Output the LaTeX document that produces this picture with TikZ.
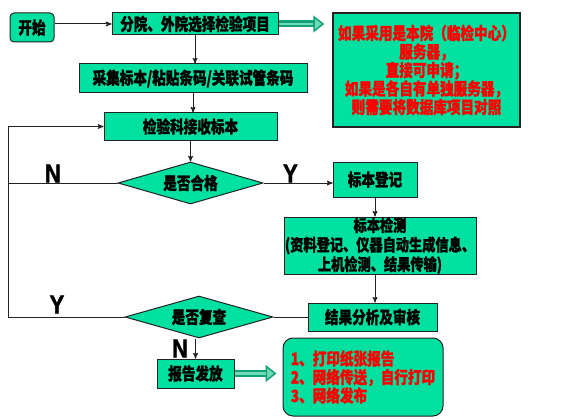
\documentclass[tikz,border=0pt]{standalone}
\usepackage{fontspec}
\setmainfont{Noto Sans CJK SC}[FakeStretch=0.8, BoldFeatures={FakeBold=1.2}]
\newfontfamily\latinbold{Liberation Sans}[FakeStretch=0.85, BoldFeatures={FakeBold=1.5}]
\usetikzlibrary{arrows,arrows.meta,shapes.geometric}
\definecolor{boxgreen}{RGB}{0,224,160}
\definecolor{boxline}{RGB}{35,35,35}
\definecolor{fatedge}{RGB}{20,160,120}
\definecolor{fatcore}{RGB}{110,220,180}
\newcommand{\zh}{\bfseries\fontsize{17}{18.5}\selectfont}
\tikzset{>=stealth',
	box/.style={draw=boxline, fill=boxgreen, line width=1pt, inner sep=0pt,
		font=\zh, align=center},
	decide/.style={box, diamond, aspect=3.4},
	note/.style={box, text=red},
	link/.style={draw=boxline, line width=1pt},
	flow/.style={link, ->},
	fat/.style={draw=fatedge, line width=7pt,
		-{Triangle[length=11pt, width=17pt, fill=fatcore, line width=1.5pt]}},
	fatcore/.style={draw=fatcore, line width=2.5pt},
	yn/.style={font=\latinbold\bfseries\fontsize{26}{26}\selectfont, inner sep=0pt}}

\begin{document}
\begin{tikzpicture}[x=1pt, y=-1pt]
	\useasboundingbox (0,0) rectangle (579,420);
	% top row
	\node[box, rounded corners=4pt, minimum width=44pt, minimum height=29pt] (start) at (32,27.5) {开始};
	\node[box, minimum width=166pt, minimum height=22pt] (choose) at (195,24) {分院、外院选择检验项目};
	\node[note, line width=1.5pt, minimum width=187pt, minimum height=114pt] (server) at (426.5,70)
		{如果采用是本院（临检中心）\\服务器，\\直接可申请；\\如果是各自有单独服务器，\\则需要将数据库项目对照};
	% main column
	\node[box, minimum width=228pt, minimum height=29pt] (collect) at (193,78.5) {采集标本/粘贴条码/关联试管条码};
	\node[box, minimum width=173pt, minimum height=27pt] (receive) at (190.5,126.5) {检验科接收标本};
	\node[decide, minimum width=145pt, minimum height=42pt] (qualified) at (190.5,183) {是否合格};
	\node[box, minimum width=84pt, minimum height=35pt] (register) at (375,179.5) {标本登记};
	\node[box, minimum width=192pt, minimum height=57pt, font=\bfseries\fontsize{16.5}{19.5}\selectfont] (detect) at (380,245.5)
		{标本检测\\(资料登记、仪器自动生成信息、\\上机检测、结果传输)};
	\node[box, minimum width=129pt, minimum height=28pt] (review) at (372.5,317) {结果分析及审核};
	\node[decide, minimum width=148pt, minimum height=42pt] (recheck) at (199,317) {是否复查};
	\node[box, minimum width=77pt, minimum height=29pt] (report) at (195.5,373.5) {报告发放};
	\node[note, rounded corners=10pt, align=left, minimum width=160pt, minimum height=78pt] (release) at (363,377)
		{1、打印纸张报告\\2、网络传送，自行打印\\3、网络发布};
	% loop corners
	\coordinate (loopTop) at (8,126.5);
	\coordinate (loopBot) at (8,317);

	\draw[flow] (choose.west -| start.east) -- (choose.west);
	\draw[fat, shorten >=8pt] (choose.east) -- (choose.east -| server.west);
	\draw[fatcore, shorten >=19pt] (choose.east) -- (choose.east -| server.west);
	\draw[flow] (choose.south) -- (choose.south |- collect.north);
	\draw[flow] (collect.south) -- (collect.south |- receive.north);
	\draw[flow] (receive.south) -- (qualified.north);
	\draw[flow] (qualified.east) -- (qualified.east -| register.west)
		node[yn, pos=0.39, above] {Y};
	\draw[link] (qualified.west) -- (qualified.west -| loopTop)
		node[yn, pos=0.59, above] {N};
	\draw[flow] (register.south) -- (register.south |- detect.north);
	\draw[flow] (detect.south -| register.south) -- (review.north -| register.south);
	\draw[link] (review.west) -- (recheck.east);
	\draw[flow] (recheck.west) -- (loopBot) node[yn, pos=0.58, above=3pt] {Y}
		-- (loopTop) -- (receive.west);
	\draw[flow] (report.north |- recheck.south) -- (report.north)
		node[yn, midway, left=7pt] {N};
	\draw[fat, shorten >=6pt] (report.east) -- (report.east -| release.west);
	\draw[fatcore, shorten >=17pt] (report.east) -- (report.east -| release.west);
\end{tikzpicture}
\end{document}
